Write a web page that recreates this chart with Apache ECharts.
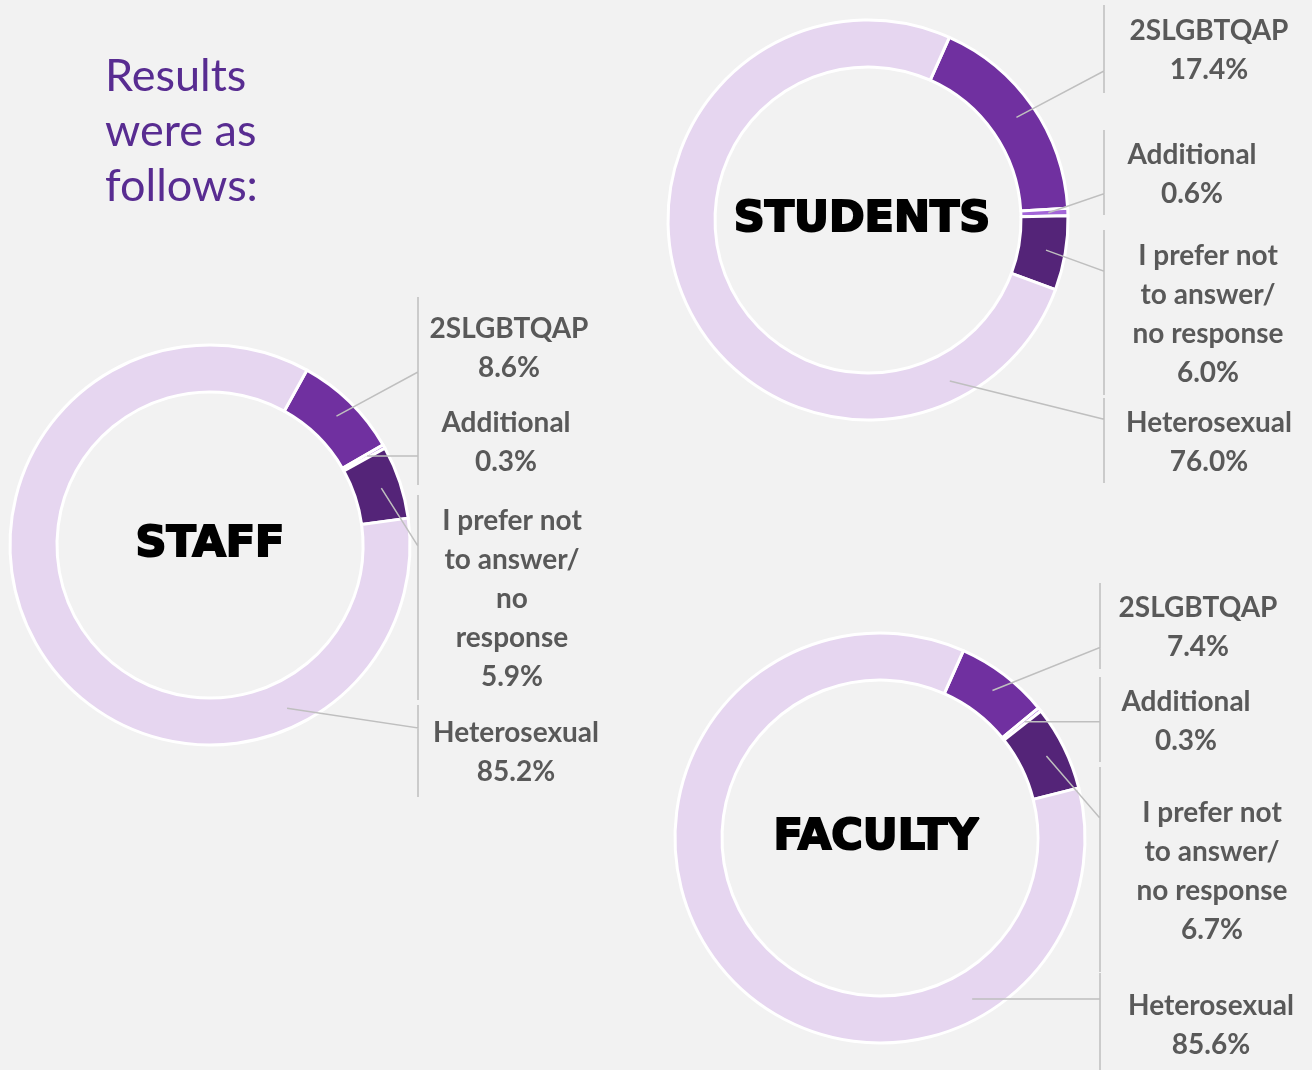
<!DOCTYPE html>
<html><head><meta charset="utf-8">
<script src="https://cdn.jsdelivr.net/npm/echarts@6/dist/echarts.min.js"></script>
<style>html,body{margin:0;padding:0;background:#f2f2f2}#main{width:1312px;height:1070px}</style>
</head><body><div id="main"></div>
<script>
// ---- data ----
const categories = ['2SLGBTQAP', 'Additional', 'I prefer not\nto answer/\nno response', 'Heterosexual'];
const studentsValues = [17.4, 0.6, 6.0, 76.0];
const staffValues = [8.6, 0.3, 5.9, 85.2];
const facultyValues = [7.4, 0.3, 6.7, 85.6];
const groupNames = ['STUDENTS', 'STAFF', 'FACULTY'];
const headline = 'Results\nwere as\nfollows:';

// ---- layout / style ----
const sliceColors = ['#7030a0', '#a366d8', '#542478', '#e6d6f0'];
// boxes: [top, bottom, text-centre offset from divider line]
const pies = [
  { values: studentsValues, center: [868, 220], radius: [153, 200], startAngle: 66, lineDx: 236, narrow: false,
    boxes: [[5, 93, 105], [130, 215, 88], [230, 395, 104], [398, 483, 105]], titleDx: -6 },
  { values: staffValues, center: [210, 545], radius: [153, 200], startAngle: 61, lineDx: 208, narrow: true,
    boxes: [[297, 397, 91], [397, 485, 88], [495, 700, 94], [705, 797, 98]], titleDx: 0 },
  { values: facultyValues, center: [880, 838], radius: [158, 205], startAngle: 66, lineDx: 220, narrow: false,
    boxes: [[583, 669, 98], [677, 762, 86], [767, 972, 112], [973, 1075, 111]], titleDx: -4 }
];

const chart = echarts.init(document.getElementById('main'), null, { renderer: 'canvas' });

function pt(cx, cy, r, deg) {
  const a = deg * Math.PI / 180;
  return [cx + r * Math.sin(a), cy - r * Math.cos(a)];
}

function layoutFn(params) {
  const p = pies[params.seriesIndex - pies.length];
  if (!p) return {};
  const i = params.dataIndex;
  const cx = p.center[0], cy = p.center[1];
  const box = p.boxes[i];
  const lineX = cx + p.lineDx;
  const total = p.values.reduce((a, b) => a + b, 0);
  let a0 = 90 - p.startAngle;
  for (let k = 0; k < i; k++) a0 += p.values[k] / total * 360;
  const a1 = a0 + p.values[i] / total * 360;
  const maxV = Math.max.apply(null, p.values);
  const rMid = (p.radius[0] + p.radius[1]) / 2 + 4;
  let ang;
  if (p.values[i] === maxV) {
    const mid = (box[0] + box[1]) / 2;
    let aa = Math.atan2(lineX - cx, -(mid - cy)) * 180 / Math.PI;
    if (aa < 0) aa += 360;
    ang = Math.min(Math.max(aa, a0 + 5), a1 - 5) + 20;
  } else {
    ang = (a0 + a1) / 2;
  }
  const s = pt(cx, cy, rMid, ang);
  const h = box[1] - box[0];
  const ay = Math.min(Math.max(s[1], box[0] + 0.25 * h), box[1] - 0.25 * h);
  return {
    x: lineX + box[2],
    y: (box[0] + box[1]) / 2 + 1.5,
    align: 'center',
    verticalAlign: 'middle',
    hideOverlap: false,
    labelLinePoints: [s, [lineX, ay], [lineX, box[0]], [lineX, box[1]]]
  };
}

function sliceData(p, colored) {
  return categories.map(function (c, k) {
    return { name: c, value: p.values[k], itemStyle: { color: colored ? sliceColors[k] : 'rgba(0,0,0,0)' } };
  });
}

// slices
const sliceSeries = pies.map(function (p) {
  return {
    type: 'pie', center: p.center, radius: p.radius, startAngle: p.startAngle, clockwise: true,
    animation: false, silent: true, z: 2,
    itemStyle: { borderColor: '#ffffff', borderWidth: 3 },
    label: { show: false }, labelLine: { show: false },
    emphasis: { disabled: true },
    data: sliceData(p, true)
  };
});

// labels + leader lines drawn above the slices
const labelSeries = pies.map(function (p) {
  return {
    type: 'pie', center: p.center, radius: p.radius, startAngle: p.startAngle, clockwise: true,
    animation: false, silent: true, z: 5, avoidLabelOverlap: false,
    itemStyle: { borderWidth: 0 },
    label: {
      show: true,
      position: 'outside',
      align: 'center',
      fontFamily: 'Lato',
      fontWeight: 'bold',
      fontSize: 28,
      lineHeight: 39,
      color: '#595959',
      formatter: function (prm) {
        let n = prm.name;
        if (p.narrow) n = n.replace('no response', 'no\nresponse');
        return n + '\n' + prm.value.toFixed(1) + '%';
      }
    },
    labelLine: { show: true, length: 10, length2: 10, smooth: false, lineStyle: { color: '#bfbfbf', width: 1.5 } },
    labelLayout: layoutFn,
    emphasis: { disabled: true },
    data: sliceData(p, false)
  };
});

const graphics = pies.map(function (p, si) {
  return {
    type: 'text',
    x: p.center[0] + p.titleDx,
    y: p.center[1],
    z: 10,
    style: {
      text: groupNames[si],
      align: 'center',
      verticalAlign: 'middle',
      font: 'bold 43px "DejaVu Sans"',
      fill: '#000000',
      stroke: '#000000',
      lineWidth: 2
    }
  };
});

chart.setOption({
  backgroundColor: '#f2f2f2',
  title: {
    text: headline,
    left: 105,
    top: 49,
    padding: 0,
    textStyle: { fontFamily: 'Lato', fontWeight: 'normal', fontSize: 45, lineHeight: 55, color: '#582c91' }
  },
  graphic: graphics,
  series: sliceSeries.concat(labelSeries)
});
</script>
</body></html>
